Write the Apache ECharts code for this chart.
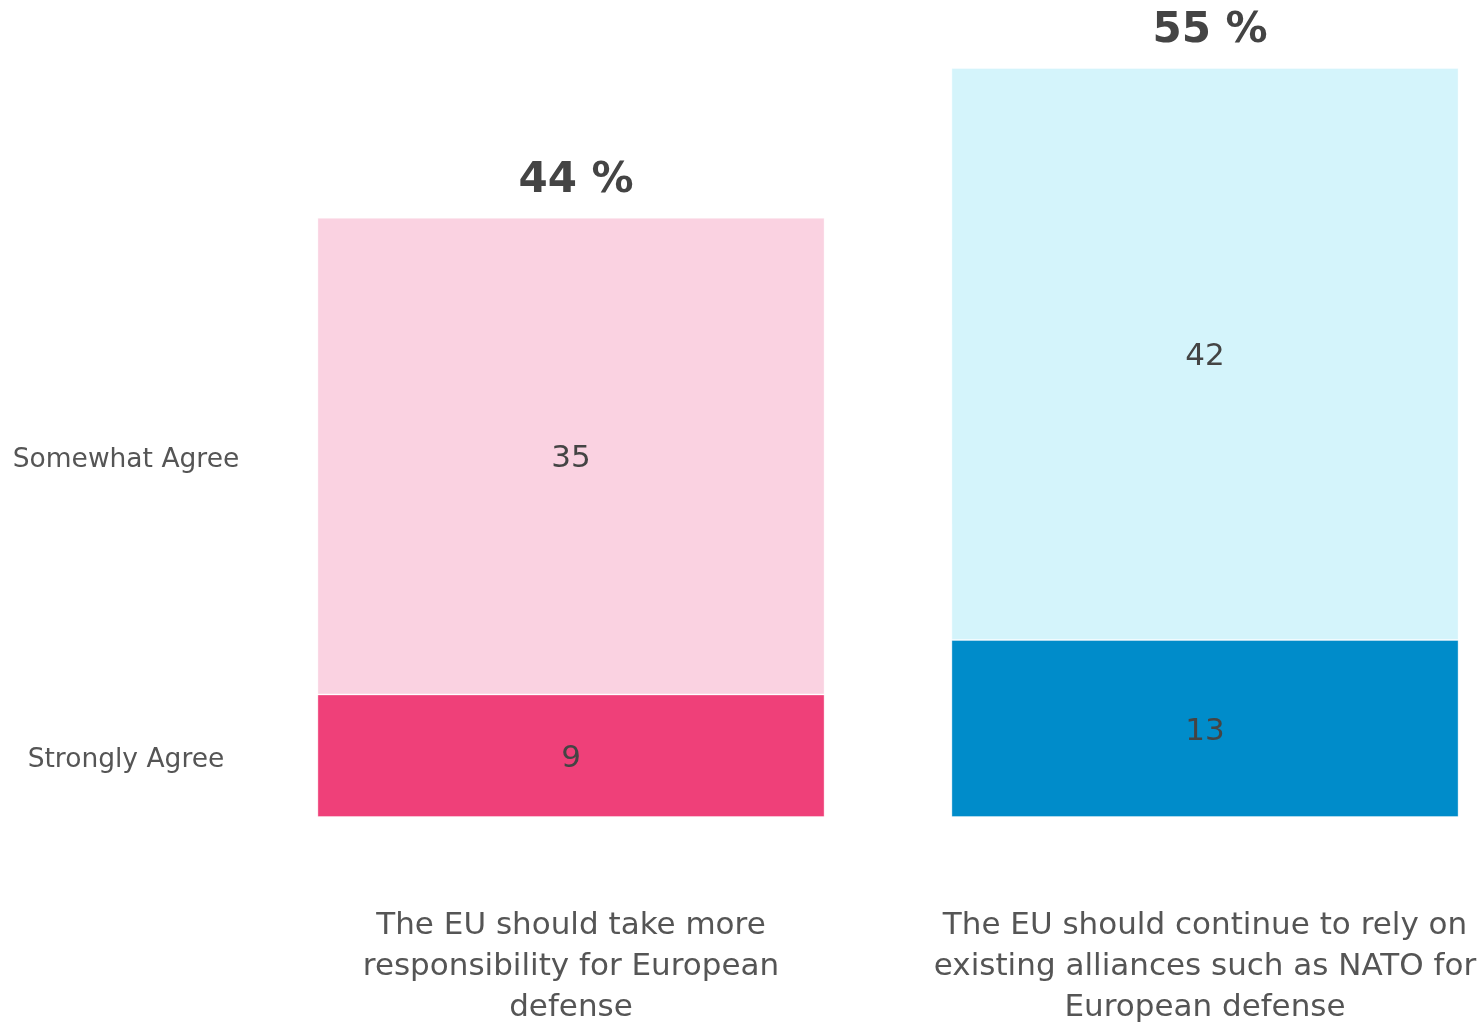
<!DOCTYPE html>
<html>
<head>
<meta charset="utf-8">
<script src="https://cdn.jsdelivr.net/npm/echarts@6/dist/echarts.min.js"></script>
<style>html,body{margin:0;padding:0;background:#fff;}#c{width:1478px;height:1023px;}</style>
</head>
<body>
<div id="c"></div>
<script>
const categories = [
  'The EU should take more\nresponsibility for European\ndefense',
  'The EU should continue to rely on\nexisting alliances such as NATO for\nEuropean defense'
];
const seriesNames = ['Strongly Agree', 'Somewhat Agree'];
const stronglyAgree = [9, 13];
const somewhatAgree = [35, 42];
const totals = [44, 55];
const darkColors = ['#EF4079', '#008CCA'];
const lightColors = ['#FAD2E1', '#D4F4FB'];

const font = '"DejaVu Sans", Verdana, sans-serif';
const chart = echarts.init(document.getElementById('c'));

function items(values, colors) {
  return values.map((v, i) => ({ value: v, itemStyle: { color: colors[i] } }));
}

const nameLabel = (name, y) => ({
  symbol: 'circle',
  symbolSize: 0,
  data: [{ coord: [0, y], value: name }],
  label: {
    show: true, position: 'inside', offset: [-445, 4],
    formatter: name, color: '#555', fontSize: 26.5, fontFamily: font
  },
  silent: true
});

const valueLabel = { show: true, position: 'inside', offset: [0, 3], color: '#444', fontSize: 31, fontFamily: font };

chart.setOption({
  animation: false,
  grid: { left: 254, right: -44, top: 68, bottom: 206, outerBoundsMode: 'none', containLabel: false },
  xAxis: {
    type: 'category',
    data: categories,
    axisLine: { show: false },
    axisTick: { show: false },
    axisLabel: {
      color: '#555', fontSize: 31, fontFamily: font, lineHeight: 41,
      margin: 88, align: 'center', interval: 0
    }
  },
  yAxis: { type: 'value', min: 0, max: 55, show: false },
  series: [
    {
      name: seriesNames[0], type: 'bar', stack: 'a', barCategoryGap: '20%',
      data: items(stronglyAgree, darkColors),
      itemStyle: { borderColor: 'rgba(255,255,255,0.35)', borderWidth: 1 },
      label: valueLabel,
      markPoint: nameLabel(seriesNames[0], stronglyAgree[0] / 2)
    },
    {
      name: seriesNames[1], type: 'bar', stack: 'a',
      data: items(somewhatAgree, lightColors),
      itemStyle: { borderColor: 'rgba(255,255,255,0.35)', borderWidth: 1 },
      label: valueLabel,
      markPoint: nameLabel(seriesNames[1], stronglyAgree[0] + somewhatAgree[0] / 2)
    },
    {
      name: 'total', type: 'bar', stack: 'a',
      data: totals.map(() => 0),
      itemStyle: { color: 'transparent' },
      label: {
        show: true, position: 'top', distance: 16, offset: [5, 0],
        formatter: p => totals[p.dataIndex] + ' %',
        color: '#444', fontSize: 42, fontWeight: 'bold', fontFamily: font
      }
    }
  ]
});
</script>
</body>
</html>
